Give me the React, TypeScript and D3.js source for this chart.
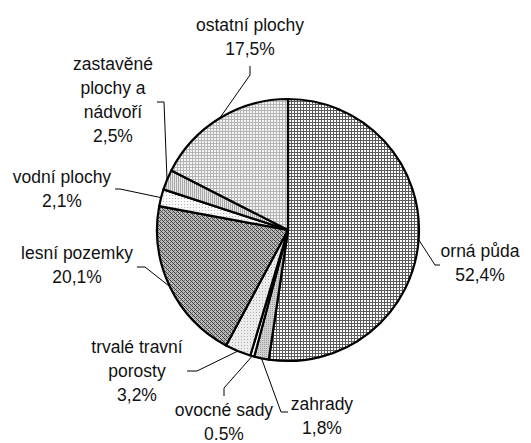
import React from "react";
import * as d3 from "d3";

const categories = [
  "orná půda",
  "zahrady",
  "ovocné sady",
  "trvalé travní porosty",
  "lesní pozemky",
  "vodní plochy",
  "zastavěné plochy a nádvoří",
  "ostatní plochy",
];
const values = [52.4, 1.8, 0.5, 3.2, 20.1, 2.1, 2.5, 17.5];
const valueLabels = ["52,4%", "1,8%", "0.5%", "3,2%", "20,1%", "2,1%", "2,5%", "17,5%"];
const labelLines = [
  ["orná půda"],
  ["zahrady"],
  ["ovocné sady"],
  ["trvalé travní", "porosty"],
  ["lesní pozemky"],
  ["vodní plochy"],
  ["zastavěné", "plochy a", "nádvoří"],
  ["ostatní plochy"],
];

// layout (label anchor: center x, first baseline y; leader elbow and end)
const W = 531;
const H = 443;
const CX = 288;
const CY = 230;
const R = 131;
const LINE_H = 24;
const labelLayout = [
  { x: 480, y: 257, elbow: [435, 265], end: [440, 265] },
  { x: 322, y: 410, elbow: [281, 412], end: [288, 412] },
  { x: 224, y: 416, elbow: [224, 388], end: [224, 396] },
  { x: 137, y: 353, elbow: [197, 371], end: [187, 371] },
  { x: 77, y: 259, elbow: [145, 267], end: [137, 267] },
  { x: 62, y: 183, elbow: [120, 189], end: [115, 189] },
  { x: 113, y: 70, elbow: [164, 102], end: [157, 102] },
  { x: 250, y: 31, elbow: [250, 75], end: [250, 66] },
];
const fills = [
  "url(#pOrna)",
  "url(#pZahrady)",
  "#ffffff",
  "url(#pTrvale)",
  "url(#pLesni)",
  "url(#pVodni)",
  "url(#pZastavene)",
  "url(#pOstatni)",
];

export default function App() {
  const pie = d3
    .pie<number>()
    .sort(null)
    .value((d) => d)
    .startAngle(0)
    .endAngle(2 * Math.PI);
  const arcs = pie(values);
  const arc = d3.arc<d3.PieArcDatum<number>>().innerRadius(0).outerRadius(R);
  const edge = d3.arc<d3.PieArcDatum<number>>().innerRadius(R).outerRadius(R);

  return (
    <svg
      width={W}
      height={H}
      style={{ position: "absolute", left: 0, top: 0, background: "#fff" }}
      fontFamily="'Liberation Sans', Arial, sans-serif"
    >
      <defs>
        <pattern id="pOrna" width={3} height={3} patternUnits="userSpaceOnUse">
          <rect width={3} height={3} fill="#ffffff" />
          <rect x={0} y={0} width={3} height={1} fill="#5c5c5c" />
          <rect x={0} y={0} width={1} height={3} fill="#5c5c5c" />
        </pattern>
        <pattern id="pOstatni" width={3} height={3} patternUnits="userSpaceOnUse">
          <rect width={3} height={3} fill="#f4f4f4" />
          <rect x={0} y={0} width={3} height={1} fill="#b4b4b4" />
          <rect x={0} y={0} width={1} height={3} fill="#b4b4b4" />
        </pattern>
        <pattern id="pLesni" width={4} height={4} patternUnits="userSpaceOnUse">
          <rect width={4} height={4} fill="#bcbcbc" />
          <rect x={0} y={0} width={1} height={1} fill="#3c3c3c" />
          <rect x={1} y={1} width={1} height={1} fill="#3c3c3c" />
          <rect x={2} y={2} width={1} height={1} fill="#3c3c3c" />
          <rect x={3} y={3} width={1} height={1} fill="#3c3c3c" />
          <rect x={2} y={0} width={1} height={1} fill="#6a6a6a" />
          <rect x={0} y={2} width={1} height={1} fill="#6a6a6a" />
        </pattern>
        <pattern id="pZastavene" width={2} height={2} patternUnits="userSpaceOnUse">
          <rect width={2} height={2} fill="#e6e6e6" />
          <rect x={0} y={0} width={1} height={2} fill="#a8a8a8" />
        </pattern>
        <pattern id="pVodni" width={3} height={3} patternUnits="userSpaceOnUse">
          <rect width={3} height={3} fill="#fafafa" />
          <rect x={1} y={1} width={1} height={1} fill="#b8b8b8" />
        </pattern>
        <pattern id="pTrvale" width={3} height={3} patternUnits="userSpaceOnUse">
          <rect width={3} height={3} fill="#ececec" />
          <rect x={1} y={1} width={1} height={1} fill="#b0b0b0" />
        </pattern>
        <pattern id="pZahrady" width={2} height={2} patternUnits="userSpaceOnUse">
          <rect width={2} height={2} fill="#d0d0d0" />
          <rect x={0} y={0} width={1} height={1} fill="#a0a0a0" />
        </pattern>
      </defs>
      <g transform={`translate(${CX},${CY})`}>
        {arcs.map((a, i) => (
          <path
            key={categories[i]}
            d={arc(a) || ""}
            fill={fills[i]}
            stroke="#000"
            strokeWidth={2.2}
            strokeLinejoin="round"
          />
        ))}
      </g>
      {arcs.map((a, i) => {
        const [ex, ey] = edge.centroid(a);
        const L = labelLayout[i];
        const pts = [[CX + ex, CY + ey], L.elbow, L.end];
        return (
          <polyline
            key={"l" + i}
            points={pts.map((p) => p.join(",")).join(" ")}
            fill="none"
            stroke="#000"
            strokeWidth={1}
          />
        );
      })}
      {labelLayout.map((L, i) => {
        const lines = [...labelLines[i], valueLabels[i]];
        return (
          <text
            key={"t" + i}
            x={L.x}
            y={L.y}
            textAnchor="middle"
            fontSize={17.5}
            fill="#111"
          >
            {lines.map((s, j) => (
              <tspan key={j} x={L.x} y={L.y + j * LINE_H}>
                {s}
              </tspan>
            ))}
          </text>
        );
      })}
    </svg>
  );
}
